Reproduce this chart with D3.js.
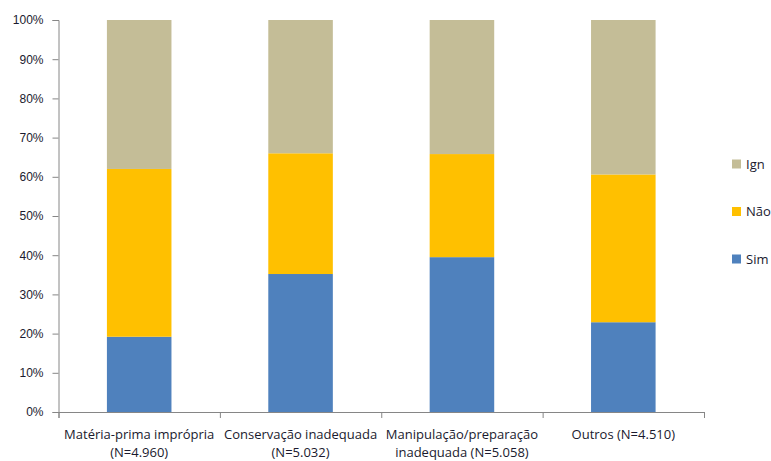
<!DOCTYPE html>
<html>
<head>
<meta charset="utf-8">
<script src="https://cdn.jsdelivr.net/npm/d3@7"></script>
<style>
  body { margin: 0; background: #fff; }
  svg { display: block; font-family: "Open Sans", sans-serif; }
</style>
</head>
<body>
<svg id="chart" width="771" height="461"></svg>
<script>
// categories (each label split into lines)
var categories = ["Matéria-prima imprópria", "Conservação inadequada", "Manipulação/preparação inadequada", "Outros"];
var catLines = [
  ["Matéria-prima imprópria", "(N=4.960)"],
  ["Conservação inadequada", "(N=5.032)"],
  ["Manipulação/preparação", "inadequada (N=5.058)"],
  ["Outros (N=4.510)"]
];
var seriesNames = ["Sim", "Não", "Ign"];
var simVals = [19.2, 35.2, 39.5, 22.9];
var naoVals = [42.8, 30.8, 26.3, 37.7];
var ignVals = [38.0, 34.0, 34.2, 39.4];
var yTicks = [0, 10, 20, 30, 40, 50, 60, 70, 80, 90, 100];

var colors = { "Sim": "#4F81BD", "Não": "#FFC000", "Ign": "#C4BD97" };

var rows = categories.map(function(c, i) {
  return { cat: c, "Sim": simVals[i], "Não": naoVals[i], "Ign": ignVals[i] };
});

var svg = d3.select("#chart");
var mLeft = 58.5, mRight = 704, mTop = 20, mBottom = 412;

var x = d3.scaleBand()
  .domain(categories)
  .range([mLeft, mRight])
  .paddingInner(0.6)
  .paddingOuter(0.3);

var y = d3.scaleLinear().domain([0, 100]).range([mBottom, mTop]);

// boundary ticks on x axis
var xEdge = d3.scaleLinear().domain([0, categories.length]).range([mLeft, mRight]);

var stack = d3.stack().keys(seriesNames);
var layers = stack(rows);

svg.append("g").selectAll("g")
  .data(layers)
  .enter().append("g")
  .attr("fill", function(d) { return colors[d.key]; })
  .selectAll("rect")
  .data(function(d) { return d; })
  .enter().append("rect")
  .attr("x", function(d) { return x(d.data.cat); })
  .attr("width", x.bandwidth())
  .attr("y", function(d) { return y(d[1]); })
  .attr("height", function(d) { return y(d[0]) - y(d[1]); });

// y axis
var yAxis = svg.append("g")
  .attr("transform", "translate(" + mLeft + ",0)")
  .call(d3.axisLeft(y).tickValues(yTicks).tickSize(6).tickPadding(9)
    .tickFormat(function(d) { return d + "%"; }));
yAxis.selectAll("path, line").attr("stroke", "#868686");
yAxis.selectAll("text").attr("font-size", "12px").attr("fill", "#1a1a2e");

// x axis
var xAxis = svg.append("g")
  .attr("transform", "translate(0," + mBottom + ")")
  .call(d3.axisBottom(xEdge).ticks(categories.length).tickSize(6).tickFormat(""));
xAxis.selectAll("path, line").attr("stroke", "#868686");

// category labels
svg.append("g").selectAll("text")
  .data(catLines)
  .enter().append("text")
  .attr("text-anchor", "middle")
  .attr("font-size", "13px")
  .attr("fill", "#1a1a2e")
  .attr("x", function(d, i) { return x(categories[i]) + x.bandwidth() / 2; })
  .attr("y", 439)
  .each(function(lines) {
    var t = d3.select(this);
    lines.forEach(function(l, j) {
      t.append("tspan")
        .attr("x", t.attr("x"))
        .attr("dy", j === 0 ? 0 : 18)
        .text(l);
    });
  });

// legend (top to bottom: Ign, Não, Sim)
var legendOrder = seriesNames.slice().reverse();
var legend = svg.append("g").selectAll("g")
  .data(legendOrder)
  .enter().append("g")
  .attr("transform", function(d, i) { return "translate(732," + (164 + i * 47.5) + ")"; });

legend.append("rect")
  .attr("x", 0).attr("y", -4.5)
  .attr("width", 9).attr("height", 9)
  .attr("fill", function(d) { return colors[d]; });

legend.append("text")
  .attr("x", 14).attr("y", 0)
  .attr("dy", "0.35em")
  .attr("font-size", "13px")
  .attr("fill", "#1a1a2e")
  .text(function(d) { return d; });
</script>
</body>
</html>
